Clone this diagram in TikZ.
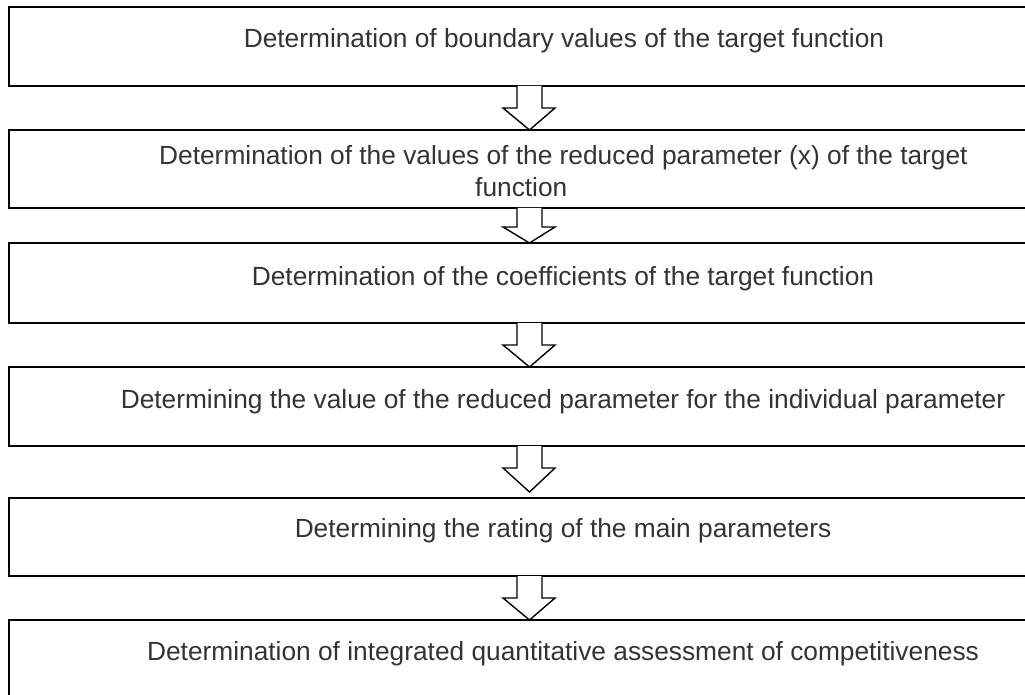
\documentclass[tikz,border=0pt]{standalone}
\usepackage{fontspec}
\setmainfont{Liberation Sans}
\usetikzlibrary{positioning,calc}

\tikzset{
  stagebox/.style={rectangle, draw, line width=2pt, inner sep=0pt, outer sep=0pt,
    minimum width=1040pt, anchor=north west},
  stagetext/.style={inner sep=0pt, text=black!80, align=left,
    font=\fontsize{26.3}{32}\selectfont},
  blockarrow/.style={draw, line width=1.4pt, fill=white, line join=miter}
}

\begin{document}
\begin{tikzpicture}[x=1pt, y=-1pt]
    \useasboundingbox (0,0) rectangle (1025,695);
    \clip (0,0) rectangle (1025,695);

    % stages
    \node[stagebox, minimum height=79pt] (b1) at (9,7) {};
    \node[stagebox, minimum height=78pt] (b2) at (9,130) {};
    \node[stagebox, minimum height=80pt] (b3) at (9,243) {};
    \node[stagebox, minimum height=79pt] (b4) at (9,367) {};
    \node[stagebox, minimum height=78pt] (b5) at (9,498) {};
    \node[stagebox, minimum height=100pt] (b6) at (9,620) {};

    \node[stagetext] (t1) at (564,41) {Determination of boundary values of the target function};
    \node[stagetext, anchor=west] (t2) at (159,171) {Determination of the values of the reduced parameter (x) of the target\\\hspace*{316pt}function};
    \node[stagetext] (t3) at (563,279) {Determination of the coefficients of the target function};
    \node[stagetext] (t4) at (563,402) {Determining the value of the reduced parameter for the individual parameter};
    \node[stagetext] (t5) at (563,531) {Determining the rating of the main parameters};
    \node[stagetext] (t6) at (563,654) {Determination of integrated quantitative assessment of competitiveness};

    % hollow arrows between stages
    \foreach \a/\b/\h/\g in {b1/b2/22/0, b2/b3/16/0, b3/b4/22/0, b4/b5/24/6, b5/b6/22/0}
        \draw[blockarrow] (517,0 |- \a.south) -- ($(517,0 |- \b.north)+(0,-\h-\g)$)
            -- ($(503,0 |- \b.north)+(0,-\h-\g)$) -- ($(529.5,0 |- \b.north)+(0,-\g)$)
            -- ($(555,0 |- \b.north)+(0,-\h-\g)$) -- ($(542,0 |- \b.north)+(0,-\h-\g)$)
            -- (542,0 |- \a.south);
\end{tikzpicture}
\end{document}
